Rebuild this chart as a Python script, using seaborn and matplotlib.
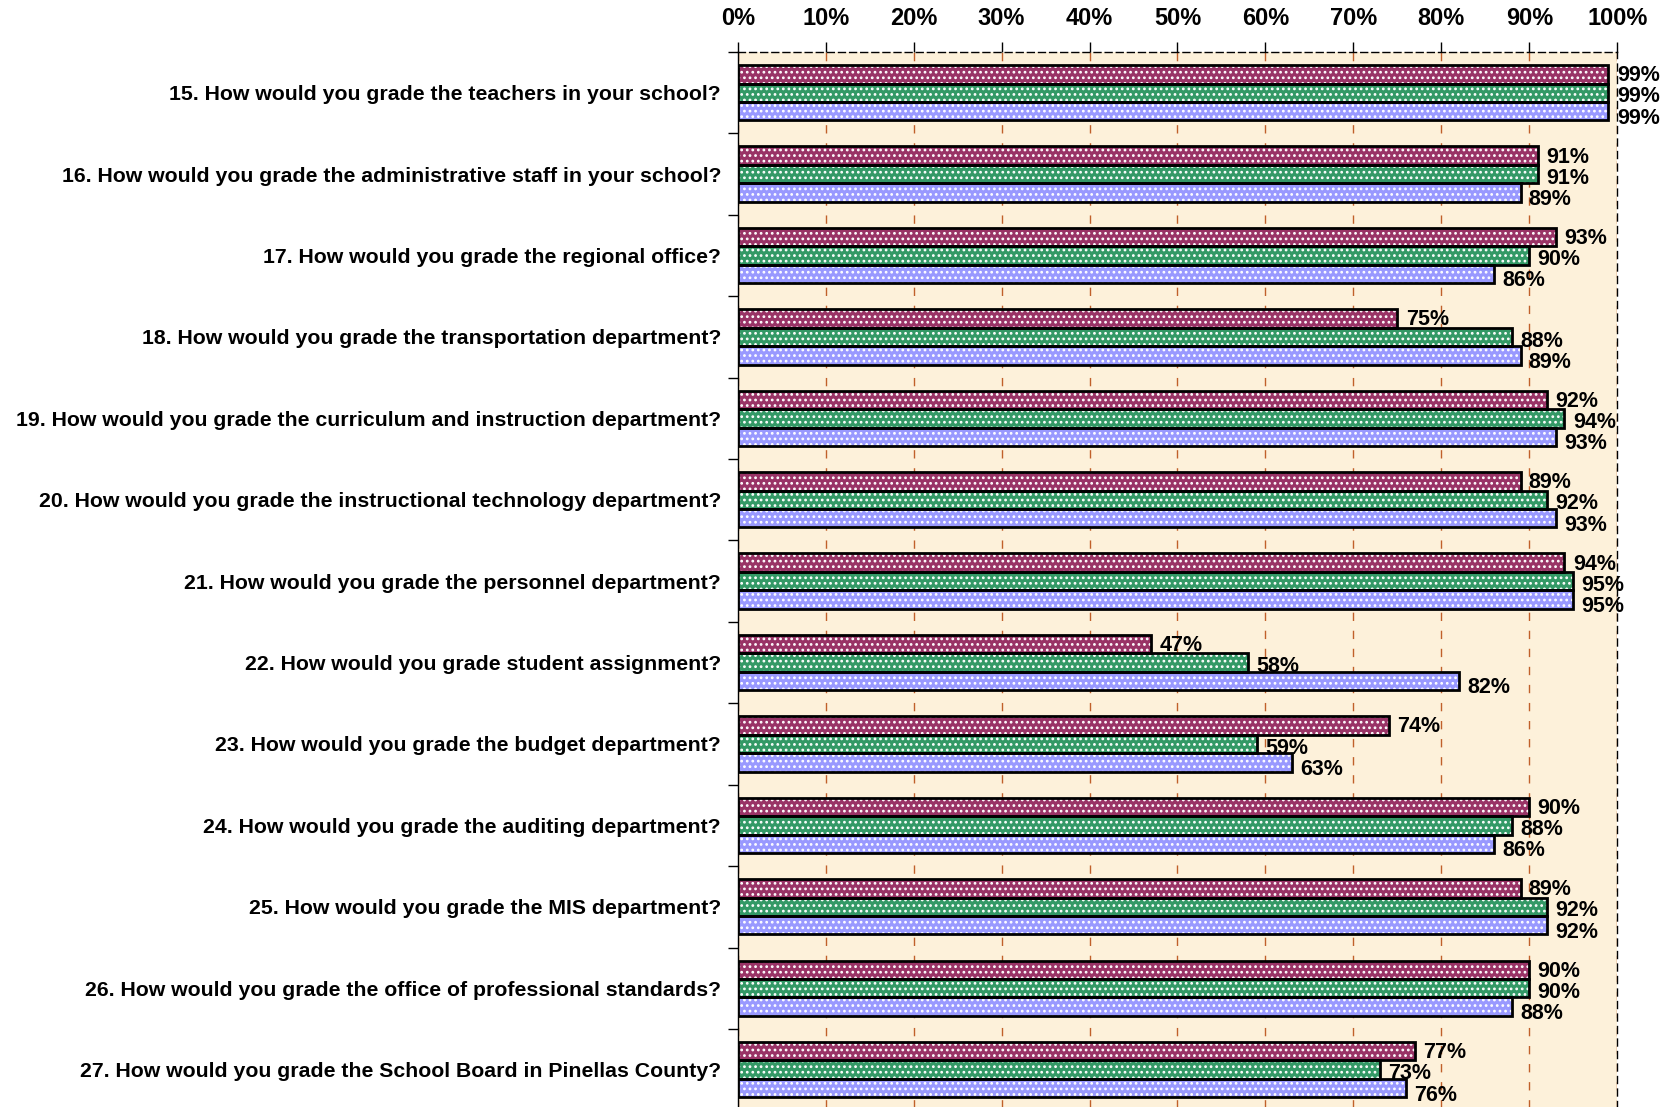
import numpy as np
import pandas as pd
import seaborn as sns
import matplotlib.pyplot as plt
from matplotlib.patches import Rectangle

questions = [
    '15. How would you grade the teachers in your school?',
    '16. How would you grade the administrative staff in your school?',
    '17. How would you grade the regional office?',
    '18. How would you grade the transportation department?',
    '19. How would you grade the curriculum and instruction department?',
    '20. How would you grade the instructional technology department?',
    '21. How would you grade the personnel department?',
    '22. How would you grade student assignment?',
    '23. How would you grade the budget department?',
    '24. How would you grade the auditing department?',
    '25. How would you grade the MIS department?',
    '26. How would you grade the office of professional standards?',
    '27. How would you grade the School Board in Pinellas County?',
]
series = ['Series 1', 'Series 2', 'Series 3']
series1_vals = [99, 91, 93, 75, 92, 89, 94, 47, 74, 90, 89, 90, 77]
series2_vals = [99, 91, 90, 88, 94, 92, 95, 58, 59, 88, 92, 90, 73]
series3_vals = [99, 89, 86, 89, 93, 93, 95, 82, 63, 86, 92, 88, 76]
colors = ['#993366', '#339966', '#9999FF']
xticks = list(range(0, 101, 10))
xtick_labels = [f'{v}%' for v in xticks]

df = pd.DataFrame({
    'question': questions * 3,
    'series': np.repeat(series, len(questions)),
    'value': series1_vals + series2_vals + series3_vals,
})

sns.set_style('white')
plt.rcParams['font.family'] = ['Liberation Sans', 'DejaVu Sans']
plt.rcParams['font.weight'] = 'bold'
plt.rcParams['text.color'] = 'black'
plt.rcParams['xtick.color'] = 'black'
plt.rcParams['ytick.color'] = 'black'
plt.rcParams['hatch.linewidth'] = 1.2

fig = plt.figure(figsize=(16.69, 11.07), dpi=100)
ax = fig.add_axes([0.442, -0.003, 0.527, 0.956])
ax.set_facecolor('#FDF1DA')

sns.barplot(data=df, x='value', y='question', hue='series', palette=colors,
            orient='h', width=0.68, saturation=1, errorbar=None,
            legend=False, ax=ax, zorder=2)

# dotted fill + black outline
for p in list(ax.patches):
    p.set_hatch('...')
    p.set_edgecolor('white')
    p.set_linewidth(0)
    ax.add_patch(Rectangle(p.get_xy(), p.get_width(), p.get_height(),
                           fill=False, edgecolor='black', linewidth=2, zorder=3))

# value labels
offsets = [-1, -3, -5]
for cont, vals, dy in zip(ax.containers, [series1_vals, series2_vals, series3_vals], offsets):
    texts = ax.bar_label(cont, labels=[f'{v}%' for v in vals], padding=6,
                         fontsize=15.5, fontweight='bold', color='black')
    for t in texts:
        t.xyann = (6, dy)

ax.set_xlim(0, 100)
ax.xaxis.tick_top()
ax.set_xticks(xticks)
ax.set_xticklabels(xtick_labels, fontsize=17, fontweight='bold')
ax.tick_params(axis='x', length=7, width=1, color='black', pad=9)
ax.set_yticks(range(len(questions)))
ax.set_yticklabels(questions, fontsize=15.3, fontweight='bold')
ax.set_yticks(np.arange(-0.5, len(questions), 1), minor=True)
ax.tick_params(axis='y', which='major', length=0, pad=12)
ax.tick_params(axis='y', which='minor', length=7, width=1, color='black', left=True)
ax.set_xlabel('')
ax.set_ylabel('')

ax.grid(axis='x', color='#C0602A', linestyle=(0, (6, 7)), linewidth=1)
ax.set_axisbelow(True)

ax.spines['top'].set_linestyle((0, (5, 3)))
ax.spines['right'].set_linestyle((0, (5, 4)))
ax.spines['bottom'].set_visible(False)
for s in ['top', 'right', 'left']:
    ax.spines[s].set_color('black')
    ax.spines[s].set_linewidth(1)

fig.savefig('out.png', dpi=100)
